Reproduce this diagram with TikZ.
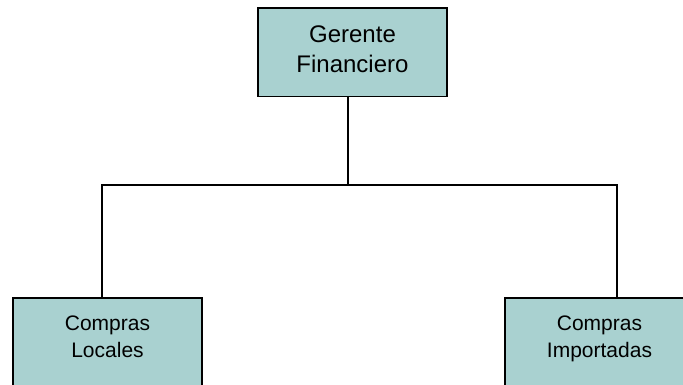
\documentclass[tikz,border=0pt]{standalone}
\usepackage{fontspec}
\setmainfont{Liberation Sans}
\usepackage{tikz}
\usetikzlibrary{positioning}
\definecolor{OrgTeal}{HTML}{A9D1D0}

\begin{document}
\begin{tikzpicture}[
		x=1pt, y=1pt,
		unit/.style={rectangle, draw=black, line width=1.6pt, fill=OrgTeal, minimum width=189pt, align=center, inner xsep=4pt, inner ysep=18pt},
		link/.style={draw=black, line width=1.6pt},
		]
		\useasboundingbox (0,0) rectangle (683,-385);
		\node (gerente) [unit, anchor=north, font=\fontsize{24}{30}\selectfont, text depth=6pt] at (352.5,-7) {Gerente\\Financiero};
		\node (locales) [unit, anchor=north, font=\fontsize{21}{27}\selectfont, text depth=50pt] at (107.5,-297) {Compras\\Locales};
		\node (importadas) [unit, anchor=north, font=\fontsize{21}{27}\selectfont, text depth=50pt] at (599.5,-297) {Compras\\Importadas};
		\coordinate (bus) at (348,-185); % joint of the tree

		\draw[link] ([xshift=-4.5pt]gerente.south) -- (bus);
		\draw[link] ([xshift=-5.5pt]locales.north) |- (bus);
		\draw[link] ([xshift=17.5pt]importadas.north) |- (bus);
	\end{tikzpicture}
\end{document}
